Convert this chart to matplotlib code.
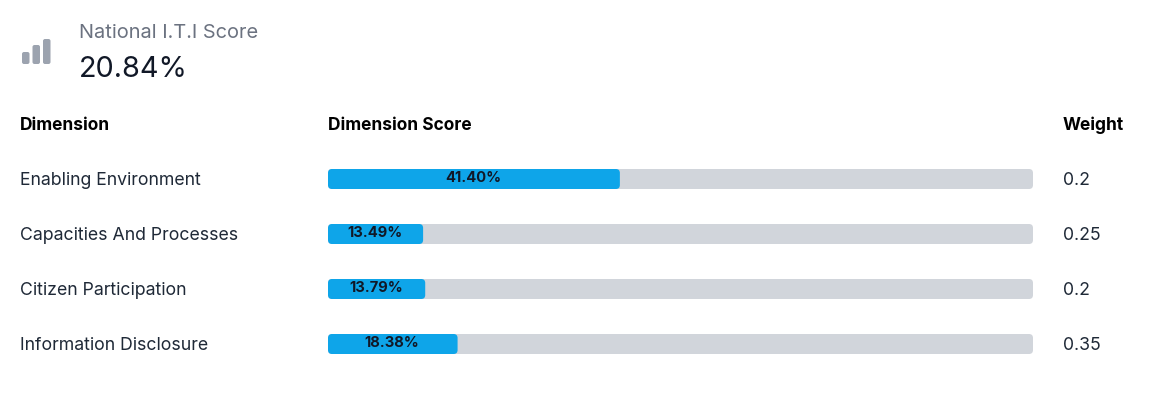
import matplotlib
matplotlib.use('Agg')
import matplotlib.pyplot as plt
from matplotlib.patches import FancyBboxPatch

plt.rcParams['font.family'] = ['Inter', 'DejaVu Sans']

dimensions = ['Enabling Environment', 'Capacities And Processes', 'Citizen Participation', 'Information Disclosure']
scores = [41.40, 13.49, 13.79, 18.38]
weights = ['0.2', '0.25', '0.2', '0.35']
overall_title = 'National I.T.I Score'
overall_score = '20.84%'
headers = ['Dimension', 'Dimension Score', 'Weight']
icon_heights = [12, 19, 25]

W, H = 1161, 396
fig = plt.figure(figsize=(W / 100, H / 100), dpi=100, facecolor='white')

# overlay in pixel coordinates for the text and the icon
page = fig.add_axes([0, 0, 1, 1])
page.set_xlim(0, W)
page.set_ylim(H, 0)
page.axis('off')

# bars get their own axes: 0-100% across the track
bar_left, bar_right = 328, 1033
row_top, row_gap = 151.5, 55
ax = fig.add_axes([bar_left / W, 1 - (row_top + 4 * row_gap) / H, (bar_right - bar_left) / W, 4 * row_gap / H])
ax.set_xlim(0, 100)
ax.set_ylim(3.5, -0.5)
ax.axis('off')

px_x = 100 / (bar_right - bar_left)
px_y = 1 / row_gap
bar_h = 20 * px_y
aspect = px_y / px_x


def round_bar(a, x0, y, w, h, r, color, zorder):
    a.add_patch(FancyBboxPatch((x0, y - h / 2), w, h, boxstyle='round,pad=0,rounding_size=%f' % r,
                               mutation_aspect=aspect, fc=color, ec='none', zorder=zorder))


for i, (name, score, weight) in enumerate(zip(dimensions, scores, weights)):
    round_bar(ax, 0, i, 100, bar_h, 4 * px_x, '#d1d5db', 1)
    round_bar(ax, 0, i, score, bar_h, 4 * px_x, '#0ea5e9', 2)
    # baseline sits 3px under the bar centre
    ax.text(score / 2 - 0.1, i + 3 * px_y, '%.2f%%' % score, ha='center', va='baseline', fontsize=10.6,
            fontweight='bold', color='#111827', zorder=3)
    y = row_top + row_gap * (i + 0.5) + 6
    page.text(20, y, name, ha='left', va='baseline', fontsize=12.72, color='#1f2937')
    page.text(1063, y, weight, ha='left', va='baseline', fontsize=12.72, color='#1f2937')

for x, label in zip([20, 328, 1063], headers):
    page.text(x, 130, label, ha='left', va='baseline', fontsize=12.5, fontweight='bold', color='#000000')

page.text(79, 38, overall_title, ha='left', va='baseline', fontsize=14.4, color='#6b7280')
page.text(79, 77, overall_score, ha='left', va='baseline', fontsize=20.8, color='#111827')

# little bar-chart icon
for x, h in zip([22, 32.5, 43], icon_heights):
    page.add_patch(FancyBboxPatch((x, 64 - h), 7.5, h, boxstyle='round,pad=0,rounding_size=2',
                                  fc='#9ca3af', ec='none'))

fig.savefig('out.png', dpi=100, facecolor='white')
